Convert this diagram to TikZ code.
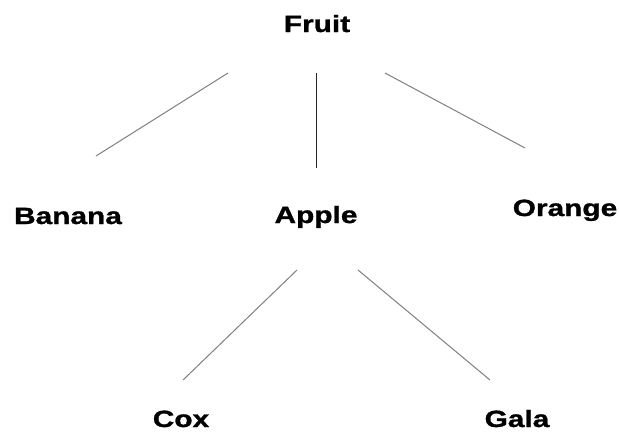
\documentclass[tikz,border=0pt]{standalone}
\usepackage{fontspec}
\newfontfamily\lblfont[FakeStretch=1.27,BoldFeatures={FakeBold=1.2}]{Liberation Sans}
\begin{document}
\begin{tikzpicture}[x=1pt,y=-1pt,
  lbl/.style={anchor=base,inner sep=0pt,font=\lblfont\bfseries\fontsize{23.5}{28}\selectfont},
  branch/.style={draw=black!50,line width=1pt},
  stem/.style={draw=black!85,line width=1pt}]
\useasboundingbox[fill=white] (0,0) rectangle (619,432);
% labels
\node[lbl] (fruit)  at (317,32)  {Fruit};
\node[lbl] (banana) at (68,224)  {Banana};
\node[lbl] (apple)  at (316,223) {Apple};
\node[lbl] (orange) at (565,216) {Orange};
\node[lbl] (cox)    at (181,427) {Cox};
\node[lbl] (gala)   at (517,427) {Gala};
% connector ends
\coordinate (fb1) at (228,73);  \coordinate (fb2) at (96,156);
\coordinate (fa1) at (316,73);  \coordinate (fa2) at (316,168);
\coordinate (fo1) at (385,73);  \coordinate (fo2) at (525,148);
\coordinate (ac1) at (297,270); \coordinate (ac2) at (183,380);
\coordinate (ag1) at (358,270); \coordinate (ag2) at (490,380);
% connectors
\draw[branch] (fb1) -- (fb2);
\draw[stem]   (fa1) -- (fa2);
\draw[branch] (fo1) -- (fo2);
\draw[branch] (ac1) -- (ac2);
\draw[branch] (ag1) -- (ag2);
\end{tikzpicture}
\end{document}
